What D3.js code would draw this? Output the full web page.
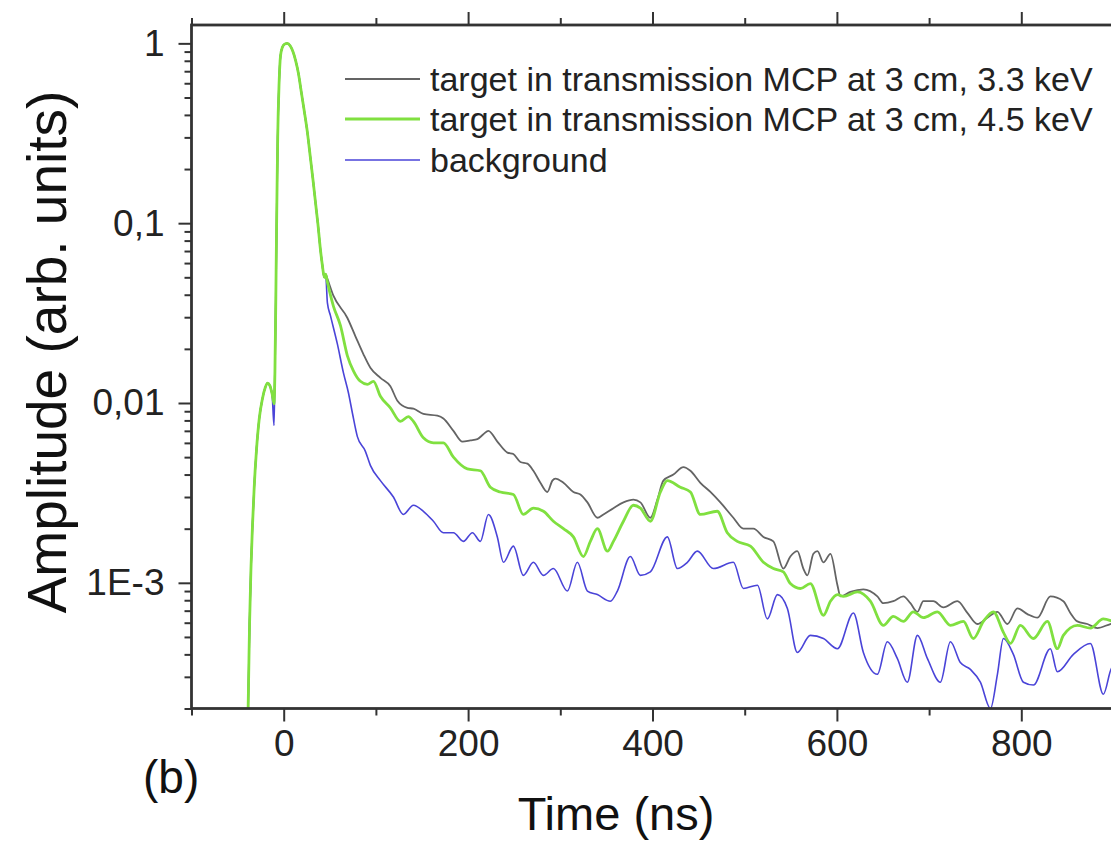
<!DOCTYPE html>
<html><head><meta charset="utf-8">
<script src="https://cdn.jsdelivr.net/npm/d3@7"></script>
<style>
html,body{margin:0;padding:0;background:#fff;}
svg{display:block;font-family:"Liberation Sans",Arial,sans-serif;}
</style></head>
<body>
<svg id="chart" width="1111" height="844"></svg>
<script>
// ---- data (time in ns, amplitude arb. units) ----
const seriesNames = ["target in transmission MCP at 3 cm, 3.3 keV","target in transmission MCP at 3 cm, 4.5 keV","background"];
const seriesColors = ["#646464","#80e040","#4a44d8"];
const seriesWidths = [1.8, 2.8, 1.6];

// shared leading pulse
const pulse = [[-39,0.00015],[-38,0.0003],[-37,0.0006],[-35.5,0.0012],[-34,0.002],[-32,0.0034],[-29.5,0.0055],[-26.5,0.0082],[-23,0.0106],[-20,0.0122],[-17.5,0.0129],[-15,0.0125],[-12.5,0.0112],[-10.5,0.0099]];
const pulseBg = [[-39,0.00015],[-38,0.0003],[-37,0.0006],[-35.5,0.0012],[-34,0.002],[-32,0.0034],[-29.5,0.0055],[-26.5,0.0082],[-23,0.0106],[-20,0.0122],[-17.5,0.0129],[-15,0.0125],[-12.5,0.011],[-10.5,0.0075]];
const peak = [[-9.5,0.015],[-8.5,0.04],[-7.5,0.12],[-6.5,0.3],[-5,0.6],[-3.5,0.85],[-1.5,0.95],[1,0.99],[4,1.0],[7,0.97],[10,0.9],[13,0.8],[16,0.68],[19,0.54],[22,0.43],[25.7,0.32],[29,0.23],[32,0.17],[34.5,0.13],[37,0.1],[40,0.07],[42,0.058],[44,0.05],[45.5,0.052]];

const grayTail = [[47.4,0.049],[53.9,0.0395],[69.1,0.0297],[77.8,0.0235],[86.4,0.0187],[94,0.0157],[104.9,0.0138],[115.7,0.0124],[123.3,0.0103],[134.2,0.0094],[140.7,0.0093],[151.5,0.0087],[166.7,0.0085],[173.2,0.0082],[184.1,0.007],[193.9,0.0061],[202.5,0.0062],[210.1,0.0063],[216.6,0.0067],[222,0.007],[231.7,0.0061],[242.6,0.0053],[249.1,0.0052],[256.7,0.0047],[264.3,0.0046],[270.8,0.0042],[278.4,0.0036],[286,0.0032],[291.4,0.0037],[294.7,0.0038],[303.4,0.0036],[314.2,0.0032],[321.8,0.0031],[329.4,0.0028],[340.2,0.0023],[346.8,0.0024],[357.6,0.0026],[368.5,0.0028],[379.3,0.0029],[386.9,0.0028],[397.7,0.0023],[405.3,0.0029],[411.8,0.0037],[422.7,0.004],[433.5,0.0044],[441.1,0.0042],[451.9,0.0036],[462.8,0.0032],[473.6,0.0028],[487.7,0.0023],[498.6,0.002],[509.4,0.002],[520.3,0.0018],[531.1,0.0017],[541.9,0.0012],[549.5,0.0014],[557.1,0.0015],[563.6,0.0012],[568,0.0011],[574.5,0.00145],[578.9,0.0015],[585.4,0.0013],[593,0.00145],[600.6,0.00097],[603.8,0.00084],[614.6,0.00089],[628.7,0.00092],[643.9,0.00084],[650.4,0.00077],[661.2,0.00079],[672.1,0.00084],[679.7,0.00077],[687.3,0.00069],[693.8,0.00079],[704.6,0.00079],[715.5,0.00073],[730.7,0.00079],[741.5,0.00068],[752.4,0.00059],[763.2,0.00064],[774.1,0.00069],[784.9,0.00059],[795.8,0.00072],[806.6,0.00067],[817.5,0.00064],[831.5,0.00084],[845.6,0.00079],[853.2,0.00068],[860.8,0.00061],[871.7,0.00059],[882.5,0.00056],[896.6,0.00059],[902,0.0006]];

const greenTail = [[47.4,0.047],[53.9,0.0346],[61.5,0.027],[69.1,0.0183],[75.6,0.0151],[83.2,0.0132],[90.8,0.0127],[97.3,0.0132],[104.9,0.0109],[115.7,0.0094],[126.6,0.0079],[135.2,0.0084],[140.7,0.0079],[151.5,0.0064],[162.4,0.006],[173.2,0.006],[184.1,0.005],[199.2,0.0043],[213.3,0.0042],[224.2,0.0034],[235,0.0032],[249.1,0.0031],[259.9,0.0024],[270.8,0.0026],[281.7,0.0025],[292.5,0.0022],[303.4,0.002],[314.2,0.0018],[325,0.0014],[332.6,0.0017],[340.2,0.002],[351.1,0.0015],[357.6,0.0017],[368.5,0.0022],[379.3,0.0027],[386.9,0.0026],[397.7,0.0022],[408.6,0.0032],[416.1,0.0037],[430.2,0.0034],[441.1,0.0032],[451.9,0.0024],[470.2,0.0025],[481.1,0.0019],[491.9,0.0017],[506.2,0.0016],[520.3,0.0013],[531.1,0.0012],[541.9,0.00115],[549.5,0.00099],[560.4,0.00093],[571.2,0.00099],[585.4,0.00066],[593,0.00079],[600.6,0.00086],[607.1,0.00084],[622.3,0.00089],[636.3,0.00079],[650.4,0.00058],[661.2,0.00065],[672.1,0.00061],[682.9,0.00069],[693.8,0.00064],[709,0.00069],[723.1,0.00058],[737.2,0.00061],[748,0.00049],[758.9,0.00061],[769.7,0.00069],[780.6,0.00053],[788.2,0.00046],[799,0.00058],[813.1,0.00049],[828.3,0.00061],[839.1,0.00043],[845.6,0.00051],[860.8,0.00058],[874.9,0.00056],[889,0.00063],[898.8,0.00061],[902,0.0006]];

const blueTail = [[47.4,0.036],[50.7,0.0306],[58.2,0.0213],[64.8,0.0147],[70.2,0.0114],[74.5,0.0088],[79.9,0.0065],[88.5,0.0054],[94,0.0045],[104.9,0.0037],[119,0.003],[129.8,0.0024],[140.7,0.0027],[151.5,0.0025],[162.4,0.0022],[173.2,0.0019],[184.1,0.0019],[194.9,0.0017],[204.7,0.0019],[213.3,0.0017],[222,0.0024],[231.7,0.0018],[238.3,0.0013],[249.1,0.0016],[259.9,0.0011],[270.8,0.0013],[281.7,0.0011],[292.5,0.0012],[307.7,0.0009],[318.5,0.0013],[329.4,0.0009],[340.2,0.00086],[354.3,0.00079],[361.9,0.0009],[376,0.0014],[386.9,0.0011],[397.7,0.00115],[416.1,0.0018],[427,0.0012],[437.8,0.0013],[448.6,0.0015],[466,0.0012],[487.7,0.0013],[498.6,0.00093],[513.8,0.00097],[524.6,0.00063],[535.5,0.00086],[546.3,0.00072],[557.1,0.00041],[571.2,0.00051],[585.4,0.00049],[600.6,0.00043],[617.9,0.00068],[628.7,0.00041],[643.9,0.00031],[654.7,0.00047],[665.5,0.00038],[676.4,0.00028],[687.3,0.00051],[698.1,0.00038],[712.2,0.00028],[723.1,0.00047],[733.9,0.00036],[744.8,0.00033],[755.6,0.00028],[766.5,0.0002],[774.1,0.00031],[780.6,0.00049],[791.4,0.0004],[802.3,0.00028],[813.1,0.00027],[831.5,0.00043],[839.1,0.00032],[856.5,0.0004],[874.9,0.00046],[889,0.00024],[898.8,0.00034],[902,0.00033]];

const xMajorTicks = [0,200,400,600,800];
const xMinorTicks = [-100,100,300,500,700,900];
const yMajorTicks = [1,0.1,0.01,0.001];
const yTickLabels = ["1","0,1","0,01","1E-3"];
const xTitle = "Time (ns)";
const yTitle = "Amplitude (arb. units)";
const panelLabel = "(b)";

// ---- layout ----
const svg = d3.select("#chart");
const L = 191.5, R = 1113.5, T = 25, B = 708.5;
const x = d3.scaleLinear().domain([-100, 900]).range([L, R]);
const y = d3.scaleLog().domain([2e-4, 1.265]).range([B, T]);

const series = [
  pulse.concat(peak, grayTail),
  pulse.concat(peak, greenTail),
  pulseBg.concat(peak, blueTail)
];

svg.append("defs").append("clipPath").attr("id","clip")
  .append("rect").attr("x",L).attr("y",T).attr("width",R-L).attr("height",B-T);

const line = d3.line().x(d=>x(d[0])).y(d=>y(d[1])).curve(d3.curveMonotoneX);
const drawOrder = [0,2,1];
const plot = svg.append("g").attr("clip-path","url(#clip)");
drawOrder.forEach(i=>{
  plot.append("path").datum(series[i]).attr("fill","none")
    .attr("stroke",seriesColors[i]).attr("stroke-width",seriesWidths[i])
    .attr("stroke-linejoin","round").attr("d",line);
});

// ---- axes ----
const axisColor = "#333";
const tickFont = 37;
const yMinor = [];
[1e-4,1e-3,1e-2,1e-1,1].forEach(dec=>{ for(let k=2;k<=9;k++){ const v=dec*k; if(v>=2e-4 && v<=1.265) yMinor.push(v);} });

function styleAxis(g){
  g.select(".domain").remove();
  g.selectAll(".tick line").attr("stroke",axisColor).attr("stroke-width",2);
  g.selectAll(".tick text").attr("fill","#222").style("font-size",tickFont+"px").style("font-family",'"Liberation Sans",Arial,sans-serif');
}
const gB = svg.append("g").attr("transform",`translate(0,${B})`)
  .call(d3.axisBottom(x).tickValues(xMajorTicks).tickSize(13).tickPadding(8).tickFormat(d3.format("d")));
styleAxis(gB);
svg.append("g").attr("transform",`translate(0,${B})`)
  .call(d3.axisBottom(x).tickValues(xMinorTicks).tickSize(7).tickFormat("")).call(styleAxis);
svg.append("g").attr("transform",`translate(0,${T})`)
  .call(d3.axisTop(x).tickValues(xMajorTicks).tickSize(13).tickFormat("")).call(styleAxis);
svg.append("g").attr("transform",`translate(0,${T})`)
  .call(d3.axisTop(x).tickValues(xMinorTicks).tickSize(7).tickFormat("")).call(styleAxis);
const gL = svg.append("g").attr("transform",`translate(${L},0)`)
  .call(d3.axisLeft(y).tickValues(yMajorTicks).tickSize(13).tickPadding(14).tickFormat((d,i)=>yTickLabels[i]));
styleAxis(gL);
svg.append("g").attr("transform",`translate(${L},0)`)
  .call(d3.axisLeft(y).tickValues(yMinor).tickSize(7).tickFormat("")).call(styleAxis);
svg.append("g").attr("transform",`translate(${R},0)`)
  .call(d3.axisRight(y).tickValues(yMajorTicks).tickSize(13).tickFormat("")).call(styleAxis);

svg.append("rect").attr("x",L).attr("y",T).attr("width",R-L).attr("height",B-T)
  .attr("fill","none").attr("stroke",axisColor).attr("stroke-width",2.8);

// ---- titles ----
svg.append("text").attr("x",616).attr("y",830).attr("text-anchor","middle")
  .style("font-size","47px").attr("fill","#111").text(xTitle);
svg.append("text").attr("transform","translate(66,352) rotate(-90)").attr("text-anchor","middle")
  .style("font-size","55px").attr("fill","#111").text(yTitle);
svg.append("text").attr("x",143).attr("y",793).style("font-size","46px").attr("fill","#111").text(panelLabel);

// ---- legend ----
const legY = [79,119,160];
[0,1,2].forEach((i,k)=>{
  svg.append("line").attr("x1",345).attr("x2",420).attr("y1",legY[k]).attr("y2",legY[k])
    .attr("stroke",seriesColors[i]).attr("stroke-width",seriesWidths[i]);
  svg.append("text").attr("x",430).attr("y",legY[k]+12).style("font-size","34px").attr("fill","#222").text(seriesNames[i]);
});
</script>
</body></html>
